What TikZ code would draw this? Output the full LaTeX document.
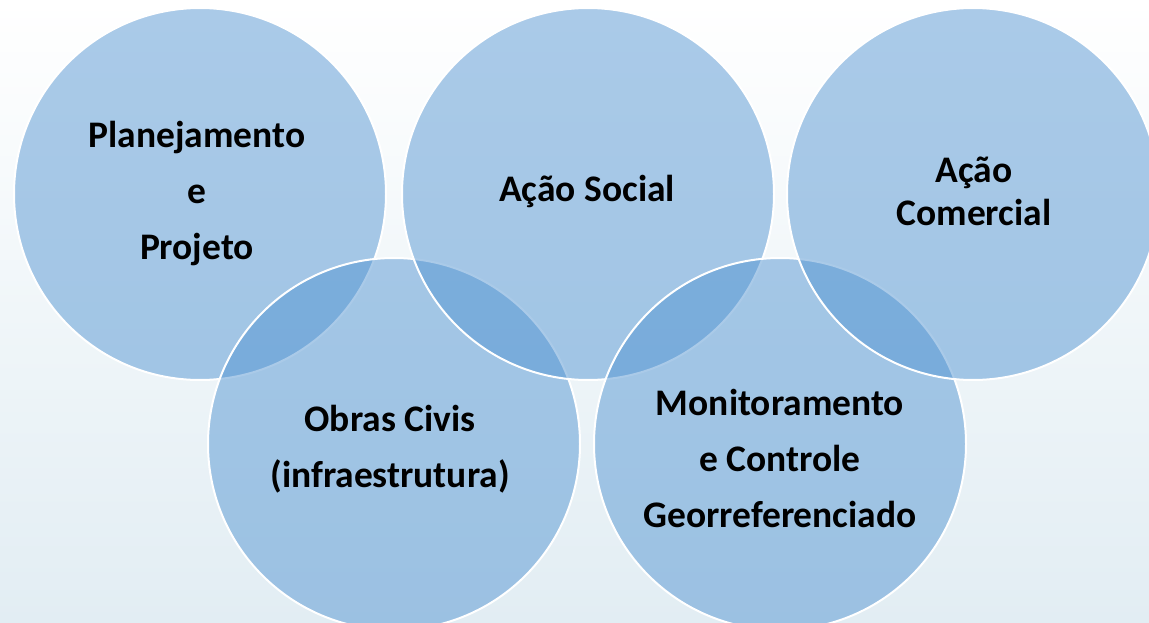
\documentclass[tikz,border=0pt]{standalone}
\usepackage{fontspec}
\setmainfont{Carlito}
\definecolor{circblue}{RGB}{79,146,209}
\definecolor{bgtop}{RGB}{255,255,255}
\definecolor{bgbot}{RGB}{226,237,243}
\definecolor{bgmid}{RGB}{240,246,249}
\tikzset{
  venn/.style={circle, minimum size=372pt, inner sep=0pt, fill=circblue, fill opacity=0.48,
    draw=white, draw opacity=1, line width=2pt},
  lbl/.style={font=\bfseries\fontsize{37.5}{56}\selectfont, align=center, text=black, inner sep=0pt},
}
\begin{document}
\begin{tikzpicture}[x=1pt,y=-1pt]
\useasboundingbox (0,0) rectangle (1149,623);
% faint background
\shade[top color=bgtop, bottom color=bgbot, middle color=bgmid] (0,0) rectangle (1149,623);
% circles (drawing order as in the reference)
\node[venn] (c1) at (200,194) {};
\node[venn] (c4) at (394,444) {};
\node[venn] (c2) at (588,194) {};
\node[venn] (c5) at (780,444) {};
\node[venn] (c3) at (973,194) {};
% labels
\node[lbl] (t1) at (197,194) {Planejamento\\e\\Projeto};
\node[lbl] (t2) at (587,191) {Ação Social};
\node[lbl, font=\bfseries\fontsize{37.5}{43}\selectfont] (t3) at (974,191) {Ação\\Comercial};
\node[lbl] (t4) at (390,449) {Obras Civis\\(infraestrutura)};
\node[lbl] (t5) at (780,458) {Monitoramento\\e Controle\\Georreferenciado};
\end{tikzpicture}
\end{document}
